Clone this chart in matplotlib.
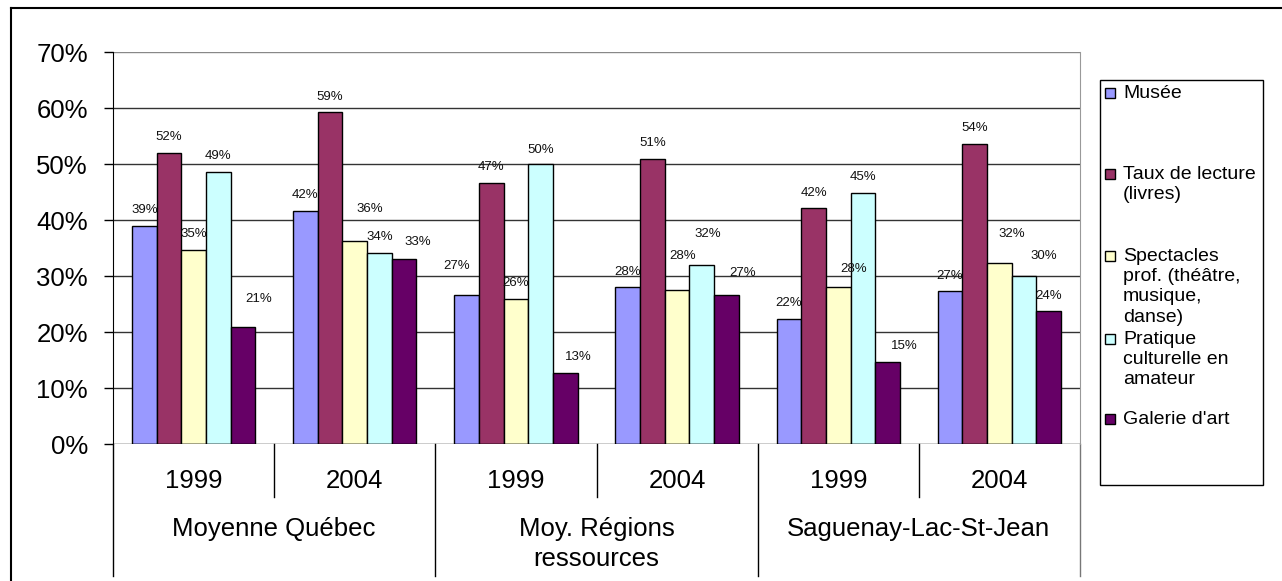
import matplotlib
matplotlib.use("Agg")
import matplotlib.pyplot as plt
from matplotlib.patches import Rectangle
from matplotlib.lines import Line2D
import numpy as np

plt.rcParams['font.family'] = ['Liberation Sans', 'DejaVu Sans']

# data
years = ['1999', '2004', '1999', '2004', '1999', '2004']
groups = ['Moyenne Québec', 'Moy. Régions\nressources', 'Saguenay-Lac-St-Jean']
series = ['Musée', 'Taux de lecture\n(livres)',
          'Spectacles\nprof. (théâtre,\nmusique,\ndanse)',
          'Pratique\nculturelle en\namateur', "Galerie d'art"]
musee = [39.0, 41.6, 26.7, 28.0, 22.4, 27.3]
lecture = [52.0, 59.4, 46.6, 50.9, 42.1, 53.6]
spectacles = [34.6, 36.2, 26.0, 27.6, 28.0, 32.3]
pratique = [48.6, 34.2, 50.1, 31.9, 44.9, 30.0]
galerie = [20.9, 33.0, 12.7, 26.7, 14.6, 23.8]
colors = ['#9999FF', '#993366', '#FFFFCC', '#CCFFFF', '#660066']

# label nudges (pixels): dx, dy above bar top
label_dx = [[0, 0, -10, 0, 0, 0],
            [0, 0, 0, 0, 0, 0],
            [0, 15, 0, 6, 15, 12],
            [0, 0, 0, 6, 0, 20],
            [16, 14, 13, 16, 17, 0]]
label_dy = [[16, 16, 29, 15, 16, 15],
            [16, 15, 16, 16, 15, 16],
            [16, 32, 16, 34, 18, 29],
            [16, 16, 14, 31, 16, 20],
            [28, 17, 16, 22, 16, 15]]

W, H = 1282, 581
fig = plt.figure(figsize=(W / 100, H / 100), dpi=100)


def fx(px):
    return px / W


def fy(py):
    return 1 - py / H


ax = fig.add_axes([fx(113), fy(444), fx(1080 - 113), (444 - 52.3) / H])

values = [musee, lecture, spectacles, pratique, galerie]
x = np.arange(len(years))
bw = 0.153
for j, (vals, c) in enumerate(zip(values, colors)):
    pos = x + (j - 2) * bw
    ax.bar(pos, vals, width=bw, color=c, edgecolor='black', linewidth=1, zorder=3)
    for i, v in enumerate(vals):
        ax.annotate(f"{v:.0f}%", (pos[i], v), xytext=(label_dx[j][i], label_dy[j][i]),
                    textcoords='offset pixels', ha='center', va='center',
                    fontsize=9.5, color='#111111', zorder=4)

ax.set_xlim(-0.5, len(years) - 0.5)
ax.set_ylim(0, 70)
ax.set_yticks(range(0, 71, 10))
ax.set_yticklabels([f"{t}%" for t in range(0, 71, 10)], fontsize=18.5)
ax.tick_params(axis='y', length=6.5, width=1, pad=11.5, direction='out')
ax.set_xticks([])
for t in range(10, 71, 10):
    ax.axhline(t, color='#333333' if t < 70 else '#888888', lw=1, zorder=1)
for s in ['top', 'bottom']:
    ax.spines[s].set_visible(False)
ax.spines['right'].set_color('#999999')
ax.spines['left'].set_color('black')
ax.axhline(0, color='black', lw=1, zorder=5)

# two-level category axis
trans = ax.get_xaxis_transform()
axh = 444 - 52.3
for k in range(len(years) + 1):
    b = k - 0.5
    low = 576 if k % 2 == 0 else 497
    ax.add_line(Line2D([b, b], [0, -(low - 444) / axh], transform=trans,
                       color='black' if k < len(years) else '#777777', lw=1, clip_on=False))
for i, yr in enumerate(years):
    ax.text(i, -(481 - 444) / axh, yr, transform=trans, ha='center', va='center', fontsize=18.5)
for g, name in enumerate(groups):
    ax.text(2 * g + 0.5, -(517 - 444) / axh, name, transform=trans, ha='center', va='top',
            fontsize=18.5, linespacing=1.3)

# outer frame (left and top edges)
fig.add_artist(Line2D([fx(10.5), fx(10.5)], [0, fy(8.3)], color='black', lw=1.5))
fig.add_artist(Line2D([fx(10.5), 1], [fy(8.3), fy(8.3)], color='black', lw=1.5))

# legend box
fig.add_artist(Rectangle((fx(1100), fy(485)), fx(1263 - 1100), (485 - 80) / H,
                         fill=False, edgecolor='black', lw=1))
entry_y = [93, 174, 256, 339, 419]
for name, c, yy in zip(series, colors, entry_y):
    fig.add_artist(Rectangle((fx(1105), fy(yy + 5)), fx(10), 10 / H,
                             facecolor=c, edgecolor='black', lw=1))
    fig.text(fx(1123), fy(yy - 8), name, ha='left', va='top', fontsize=14, linespacing=1.25)

fig.savefig('out.png', dpi=100)
